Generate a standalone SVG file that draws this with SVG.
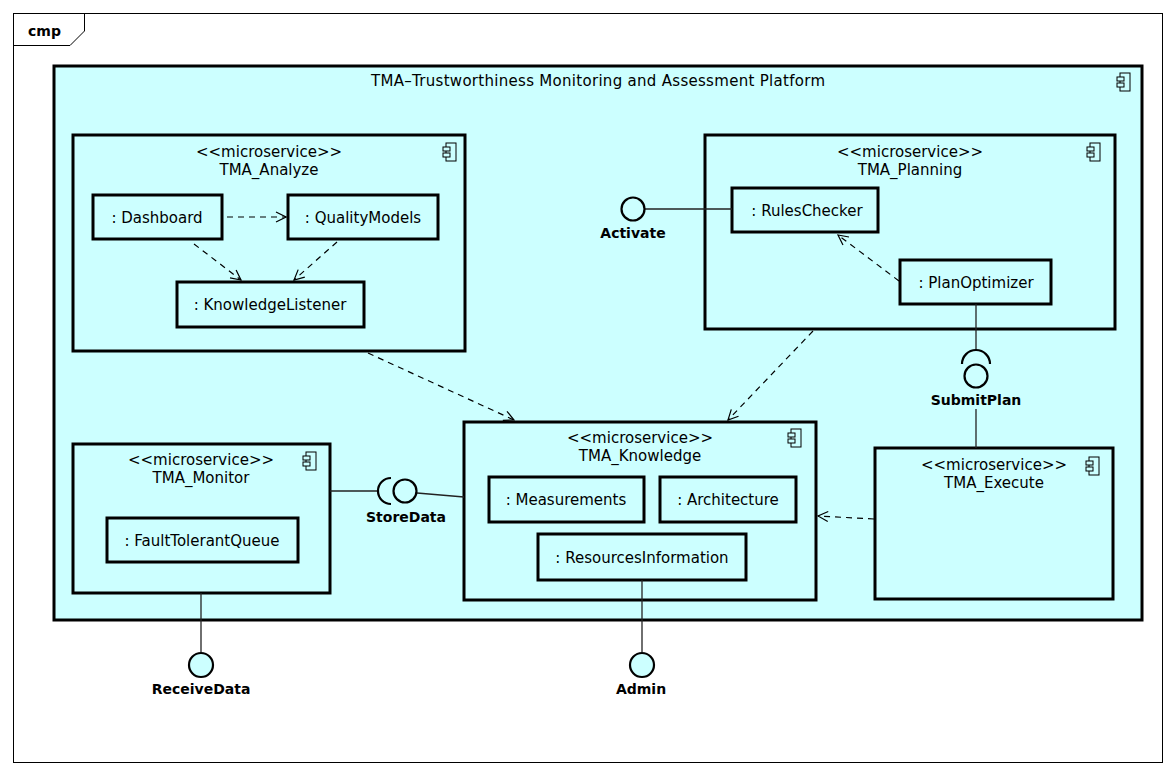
<svg xmlns="http://www.w3.org/2000/svg" width="1176" height="774" viewBox="0 0 1176 774">
  <style>
    text { font-family: "DejaVu Sans", "Liberation Sans", sans-serif; fill: #000; }
    .lbl { font-size: 15px; text-anchor: middle; }
    .ifc { font-size: 14px; font-weight: bold; text-anchor: middle; }
    .comp { fill: #ccffff; stroke: #000; stroke-width: 3; }
    .part { fill: #ccffff; stroke: #000; stroke-width: 3; }
    .icon { fill: #ccffff; stroke: #000; stroke-width: 1; }
    .dep { fill: none; stroke: #000; stroke-width: 1.2; stroke-dasharray: 6 5; }
    .wire { fill: none; stroke: #222; stroke-width: 1.3; }
    .ball { fill: #ccffff; stroke: #000; stroke-width: 2.2; }
    .sock { fill: none; stroke: #000; stroke-width: 2.2; }
  </style>
  <defs>
    <marker id="open" viewBox="0 0 12 12" refX="11" refY="6" markerWidth="12" markerHeight="12" markerUnits="userSpaceOnUse" orient="auto">
      <path d="M1,1 L11,6 L1,11" fill="none" stroke="#000" stroke-width="1.2"/>
    </marker>
    <g id="cicon">
      <rect class="icon" x="3" y="0" width="10" height="18"/>
      <rect class="icon" x="0" y="4" width="7" height="4"/>
      <rect class="icon" x="0" y="10" width="7" height="4"/>
    </g>
  </defs>

  <rect width="1176" height="774" fill="#fff"/>

  <!-- diagram frame -->
  <g id="frame">
    <rect x="13.5" y="13.5" width="1149" height="749" fill="none" stroke="#000" stroke-width="1"/>
    <path d="M13.5,45.5 H70 L84.5,31 V13.5" fill="none" stroke="#000" stroke-width="1"/>
    <text x="28" y="36" style="font-size:14px;font-weight:bold">cmp</text>
  </g>

  <!-- platform -->
  <g id="platform">
    <rect class="comp" x="54" y="66" width="1088" height="554"/>
    <text class="lbl" x="598" y="86" textLength="454" lengthAdjust="spacing">TMA–Trustworthiness Monitoring and Assessment Platform</text>
    <use href="#cicon" x="1117" y="73"/>
  </g>

  <!-- TMA_Analyze -->
  <g id="analyze">
    <rect class="comp" x="73" y="135" width="392" height="216"/>
    <text class="lbl" x="269" y="157">&lt;&lt;microservice&gt;&gt;</text>
    <text class="lbl" x="269" y="175">TMA_Analyze</text>
    <use href="#cicon" x="443" y="143"/>
    <g id="dashboard">
      <rect class="part" x="93" y="195" width="129" height="44"/>
      <text class="lbl" x="157" y="223">: Dashboard</text>
    </g>
    <g id="qualitymodels">
      <rect class="part" x="288" y="195" width="150" height="44"/>
      <text class="lbl" x="363" y="223">: QualityModels</text>
    </g>
    <g id="knowledgelistener">
      <rect class="part" x="177" y="282" width="187" height="45"/>
      <text class="lbl" x="270" y="310">: KnowledgeListener</text>
    </g>
  </g>

  <!-- TMA_Planning -->
  <g id="planning">
    <rect class="comp" x="705" y="135" width="410" height="194"/>
    <text class="lbl" x="910" y="157">&lt;&lt;microservice&gt;&gt;</text>
    <text class="lbl" x="910" y="175">TMA_Planning</text>
    <use href="#cicon" x="1087" y="143"/>
    <g id="ruleschecker">
      <rect class="part" x="732" y="188" width="146" height="44"/>
      <text class="lbl" x="807" y="216">: RulesChecker</text>
    </g>
    <g id="planoptimizer">
      <rect class="part" x="900" y="260" width="151" height="44"/>
      <text class="lbl" x="976" y="288">: PlanOptimizer</text>
    </g>
  </g>

  <!-- TMA_Knowledge -->
  <g id="knowledge">
    <rect class="comp" x="464" y="422" width="352" height="178"/>
    <text class="lbl" x="640" y="443">&lt;&lt;microservice&gt;&gt;</text>
    <text class="lbl" x="640" y="461">TMA_Knowledge</text>
    <use href="#cicon" x="788" y="429"/>
    <g id="measurements">
      <rect class="part" x="489" y="477" width="155" height="45"/>
      <text class="lbl" x="566" y="505">: Measurements</text>
    </g>
    <g id="architecture">
      <rect class="part" x="660" y="477" width="136" height="45"/>
      <text class="lbl" x="728" y="505">: Architecture</text>
    </g>
    <g id="resourcesinformation">
      <rect class="part" x="538" y="534" width="208" height="46"/>
      <text class="lbl" x="642" y="563">: ResourcesInformation</text>
    </g>
  </g>

  <!-- TMA_Monitor -->
  <g id="monitor">
    <rect class="comp" x="73" y="444" width="257" height="149"/>
    <text class="lbl" x="201" y="465">&lt;&lt;microservice&gt;&gt;</text>
    <text class="lbl" x="201" y="483">TMA_Monitor</text>
    <use href="#cicon" x="303" y="452"/>
    <g id="faulttolerantqueue">
      <rect class="part" x="107" y="518" width="191" height="44"/>
      <text class="lbl" x="202" y="546">: FaultTolerantQueue</text>
    </g>
  </g>

  <!-- TMA_Execute -->
  <g id="execute">
    <rect class="comp" x="875" y="448" width="238" height="151"/>
    <text class="lbl" x="994" y="470">&lt;&lt;microservice&gt;&gt;</text>
    <text class="lbl" x="994" y="488">TMA_Execute</text>
    <use href="#cicon" x="1086" y="457"/>
  </g>

  <!-- connectors: dependencies and interface wiring -->
  <g id="connectors">
    <line class="dep" x1="227" y1="217" x2="286" y2="217" marker-end="url(#open)"/>
    <line class="dep" x1="194" y1="244" x2="241" y2="280" marker-end="url(#open)"/>
    <line class="dep" x1="337" y1="242" x2="294" y2="280" marker-end="url(#open)"/>
    <line class="dep" x1="368" y1="353" x2="514" y2="420" marker-end="url(#open)"/>
    <line class="dep" x1="813" y1="331" x2="728" y2="420" marker-end="url(#open)"/>
    <line class="dep" x1="874" y1="519" x2="818" y2="516" marker-end="url(#open)"/>
    <line class="dep" x1="899" y1="281" x2="838" y2="235" marker-end="url(#open)"/>

    <!-- Activate (provided) -->
    <line class="wire" x1="645" y1="209" x2="732" y2="209"/>
    <!-- SubmitPlan (required by Planning, provided by Execute) -->
    <line class="wire" x1="976" y1="304" x2="976" y2="350"/>
    <line class="wire" x1="976" y1="409" x2="976" y2="448"/>
    <!-- StoreData (required by Monitor, provided by Knowledge) -->
    <line class="wire" x1="330" y1="491" x2="378" y2="491"/>
    <line class="wire" x1="417" y1="493" x2="464" y2="497"/>
    <!-- ReceiveData and Admin -->
    <line class="wire" x1="201" y1="593" x2="201" y2="652"/>
    <line class="wire" x1="642" y1="580" x2="642" y2="652"/>
  </g>

  <!-- interfaces -->
  <g id="activate">
    <circle class="ball" cx="633" cy="209" r="11.5"/>
    <text class="ifc" x="633" y="238">Activate</text>
  </g>
  <g id="submitplan">
    <path class="sock" d="M962,364 A14,14 0 0 1 990,364"/>
    <circle class="ball" cx="976" cy="376" r="11.5"/>
    <text class="ifc" x="976" y="405">SubmitPlan</text>
  </g>
  <g id="storedata">
    <path class="sock" d="M391,478 A13,13 0 0 0 391,504"/>
    <circle class="ball" cx="405" cy="491" r="11.5"/>
    <text class="ifc" x="406" y="522">StoreData</text>
  </g>
  <g id="receivedata">
    <circle class="ball" cx="201" cy="665" r="12"/>
    <text class="ifc" x="201" y="694">ReceiveData</text>
  </g>
  <g id="admin">
    <circle class="ball" cx="642" cy="665" r="12"/>
    <text class="ifc" x="641" y="694">Admin</text>
  </g>
</svg>
